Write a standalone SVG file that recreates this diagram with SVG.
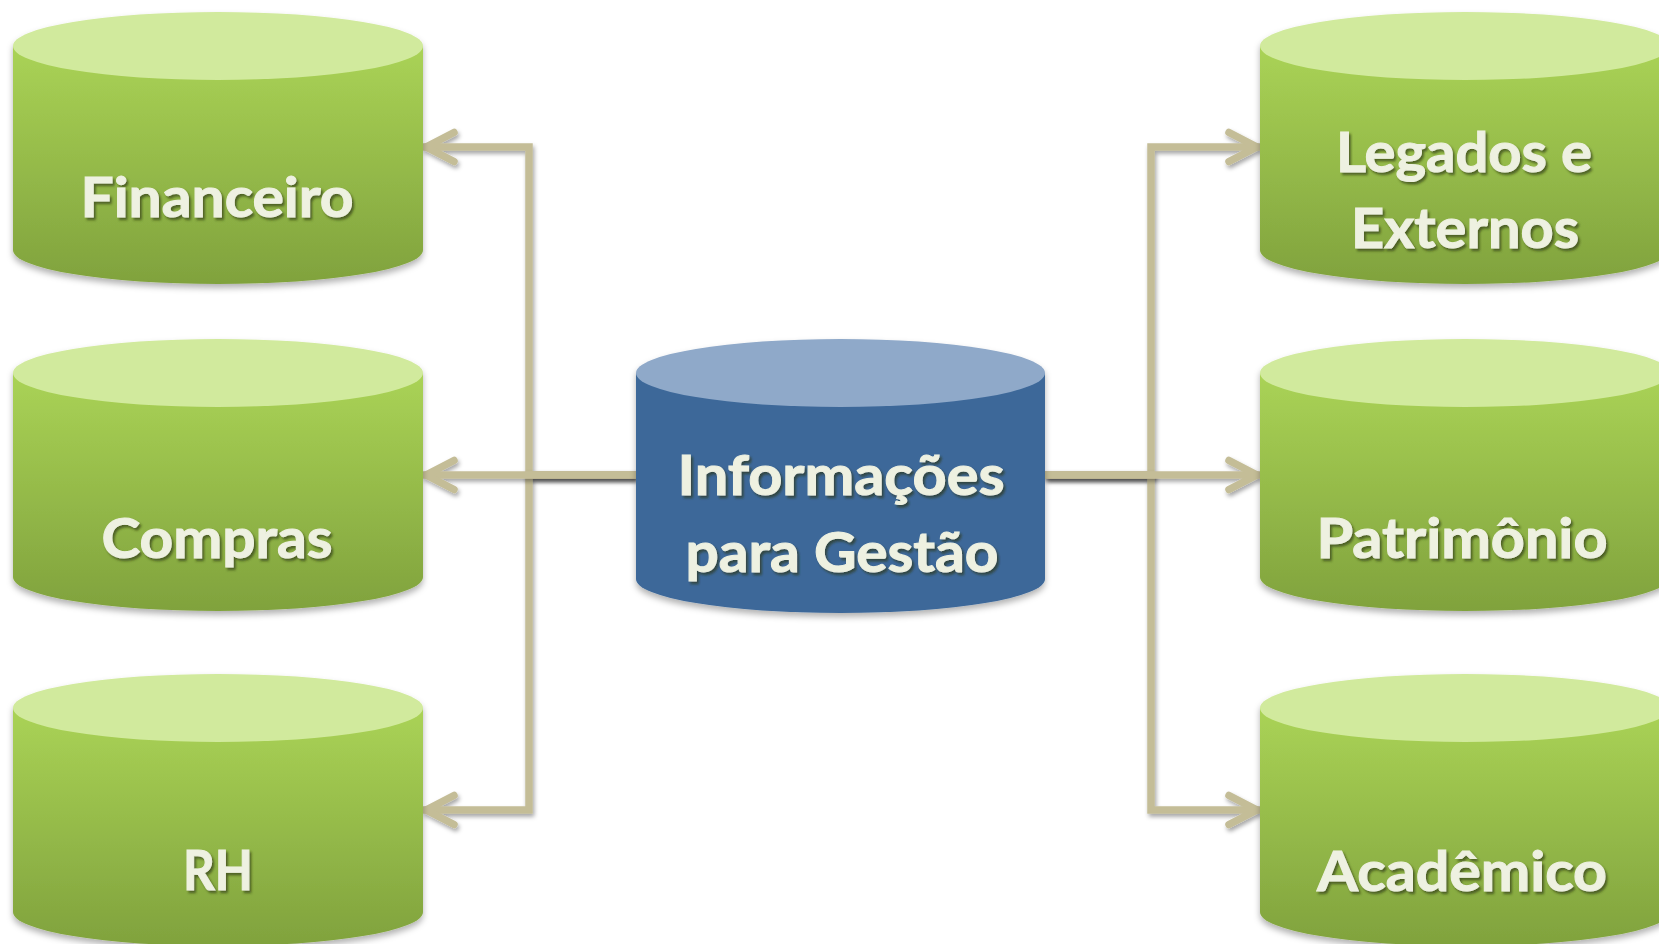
<svg xmlns="http://www.w3.org/2000/svg" width="1659" height="944" viewBox="0 0 1659 944">
<style>
.lbl{font-family:Lato,"Liberation Sans",sans-serif;font-weight:bold;font-size:56px;fill:#EEF1E1;stroke:#EEF1E1;stroke-width:1;text-anchor:middle;filter:url(#tsh)}
.top-g{fill:#D1EA9D}
.body-g{fill:url(#gGreen)}
.top-b{fill:#8FA9C9}
.body-b{fill:#3D6899}
.con{fill:none;stroke:#C4BD97;stroke-width:7.5;stroke-linejoin:miter;filter:url(#lsh)}
</style>
<defs>
<linearGradient id="gGreen" x1="0" y1="0" x2="0" y2="1">
<stop offset="0" stop-color="#AAD356"/>
<stop offset="1" stop-color="#80A23D"/>
</linearGradient>
<filter id="csh" x="-10%" y="-10%" width="120%" height="125%">
<feDropShadow dx="0" dy="4" stdDeviation="3" flood-color="#000" flood-opacity="0.3"/>
</filter>
<filter id="tsh" x="-10%" y="-20%" width="120%" height="150%">
<feDropShadow dx="2" dy="2.5" stdDeviation="1.2" flood-color="#2a3510" flood-opacity="0.65"/>
</filter>
<filter id="lsh" x="-10%" y="-10%" width="120%" height="120%" filterUnits="userSpaceOnUse">
<feDropShadow dx="1.5" dy="3" stdDeviation="2" flood-color="#000" flood-opacity="0.35"/>
</filter>
<marker id="chev" markerUnits="userSpaceOnUse" markerWidth="50" markerHeight="50" refX="0" refY="0" orient="auto" overflow="visible">
<path d="M-31,-14.5 L-3,0 L-31,14.5" fill="none" stroke="#C4BD97" stroke-width="7.5" stroke-linecap="round" stroke-linejoin="round"/>
</marker>
</defs>
<rect width="1659" height="944" fill="#FFFFFF"/>

<g id="connectors">
<path class="con" d="M636,475 H529 V147 H423" marker-end="url(#chev)"/>
<path class="con" d="M636,475 H529 V810 H423" marker-end="url(#chev)"/>
<path class="con" d="M636,475 H423" marker-end="url(#chev)"/>
<path class="con" d="M1045,475 H1151 V147 H1260" marker-end="url(#chev)"/>
<path class="con" d="M1045,475 H1151 V810 H1260" marker-end="url(#chev)"/>
<path class="con" d="M1045,475 H1260" marker-end="url(#chev)"/>
</g>

<g id="financeiro" filter="url(#csh)">
<path class="body-g" d="M13,46 V250 A205,34 0 0 0 423,250 V46 Z"/>
<ellipse class="top-g" cx="218" cy="46" rx="205" ry="34"/>
<text class="lbl" x="217" y="217" textLength="273" lengthAdjust="spacingAndGlyphs">Financeiro</text>
</g>

<g id="compras" filter="url(#csh)">
<path class="body-g" d="M13,373 V577 A205,34 0 0 0 423,577 V373 Z"/>
<ellipse class="top-g" cx="218" cy="373" rx="205" ry="34"/>
<text class="lbl" x="217" y="558" textLength="231" lengthAdjust="spacingAndGlyphs">Compras</text>
</g>

<g id="rh" filter="url(#csh)">
<path class="body-g" d="M13,708 V912 A205,34 0 0 0 423,912 V708 Z"/>
<ellipse class="top-g" cx="218" cy="708" rx="205" ry="34"/>
<text class="lbl" x="218" y="890" textLength="70" lengthAdjust="spacingAndGlyphs">RH</text>
</g>

<g id="informacoes" filter="url(#csh)">
<path class="body-b" d="M636,373 V579 A204.5,34 0 0 0 1045,579 V373 Z"/>
<ellipse class="top-b" cx="840.5" cy="373" rx="204.5" ry="34"/>
<text class="lbl" x="841" y="495" textLength="327" lengthAdjust="spacingAndGlyphs">Informações</text>
<text class="lbl" x="842" y="572" textLength="313" lengthAdjust="spacingAndGlyphs">para Gestão</text>
</g>

<g id="legados" filter="url(#csh)">
<path class="body-g" d="M1260,46 V250 A205,34 0 0 0 1670,250 V46 Z"/>
<ellipse class="top-g" cx="1465" cy="46" rx="205" ry="34"/>
<text class="lbl" x="1464" y="172" textLength="256" lengthAdjust="spacingAndGlyphs">Legados e</text>
<text class="lbl" x="1465" y="248" textLength="228" lengthAdjust="spacingAndGlyphs">Externos</text>
</g>

<g id="patrimonio" filter="url(#csh)">
<path class="body-g" d="M1260,373 V577 A205,34 0 0 0 1670,577 V373 Z"/>
<ellipse class="top-g" cx="1465" cy="373" rx="205" ry="34"/>
<text class="lbl" x="1462" y="558" textLength="291" lengthAdjust="spacingAndGlyphs">Patrimônio</text>
</g>

<g id="academico" filter="url(#csh)">
<path class="body-g" d="M1260,708 V912 A205,34 0 0 0 1670,912 V708 Z"/>
<ellipse class="top-g" cx="1465" cy="708" rx="205" ry="34"/>
<text class="lbl" x="1462" y="891" textLength="290" lengthAdjust="spacingAndGlyphs">Acadêmico</text>
</g>
</svg>
